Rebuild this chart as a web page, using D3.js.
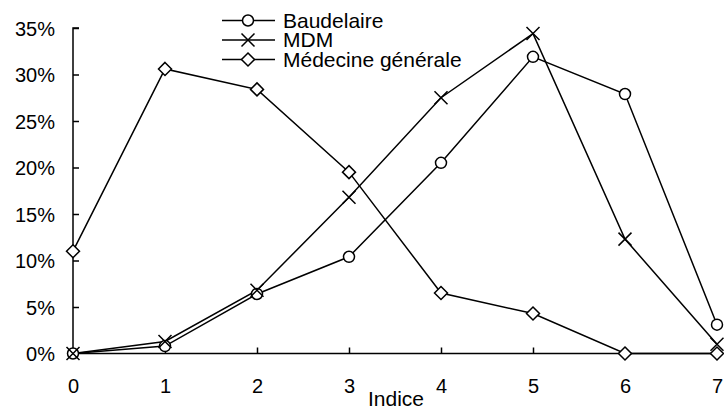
<!DOCTYPE html>
<html>
<head>
<script src="https://cdn.jsdelivr.net/npm/d3@7"></script>
<style type="text/css">
  body { margin: 0; background: #fff; }
  text { font-family: Arial, "Liberation Sans", sans-serif; fill: #000; }
</style>
</head>
<body>
<script>
  // data (percent)
  var indices = [0, 1, 2, 3, 4, 5, 6, 7];
  var baudelaire = [0, 0.8, 6.4, 10.4, 20.5, 31.9, 27.9, 3.1];
  var mdm = [0, 1.3, 6.8, 16.8, 27.5, 34.4, 12.3, 1.0];
  var medecine = [11.0, 30.6, 28.4, 19.5, 6.5, 4.3, 0, 0];
  var yTicks = [0, 5, 10, 15, 20, 25, 30, 35];

  var series = [
    { name: "Baudelaire", values: baudelaire, marker: "circle" },
    { name: "MDM", values: mdm, marker: "cross" },
    { name: "Médecine générale", values: medecine, marker: "diamond" }
  ];

  var canvas = d3.select("body").append("svg")
    .attr("width", 724)
    .attr("height", 410);

  var x = d3.scaleLinear().domain([0, 7]).range([73, 717]);
  var y = d3.scaleLinear().domain([0, 35]).range([353.5, 28]);

  // axes
  var yAxis = canvas.append("g").attr("transform", "translate(73,0)")
    .call(d3.axisRight(y).tickValues(yTicks).tickSize(6).tickFormat(function (d) { return d + "%"; }));
  yAxis.select(".domain").attr("d", "M6," + y(35) + "H0V" + y(0));
  yAxis.selectAll("text").attr("x", -18).attr("text-anchor", "end").attr("dy", "0.35em")
    .style("font-size", "20px");

  var xAxis = canvas.append("g").attr("transform", "translate(0," + y(0) + ")")
    .call(d3.axisTop(x).tickValues(indices).tickSize(6).tickFormat(d3.format("d")));
  xAxis.select(".domain").attr("d", "M" + x(0) + ",0H" + x(7));
  xAxis.selectAll(".tick line").filter(function (d) { return d === 0 || d === 7; }).remove();
  xAxis.selectAll("text").attr("y", 39).attr("dy", 0).style("font-size", "20px");
  canvas.selectAll(".domain, .tick line").attr("stroke", "#000").attr("stroke-width", 1.5);

  canvas.append("text")
    .attr("x", 396).attr("y", 406)
    .attr("text-anchor", "middle")
    .style("font-size", "21px")
    .text("Indice");

  function drawMarker(g, type) {
    if (type === "circle") {
      g.append("circle").attr("r", 5.5).attr("fill", "#fff").attr("stroke", "#000").attr("stroke-width", 1.5);
    } else if (type === "diamond") {
      g.append("path").attr("d", "M0,-6.5L6.5,0L0,6.5L-6.5,0Z")
        .attr("fill", "#fff").attr("stroke", "#000").attr("stroke-width", 1.5);
    } else {
      g.append("path").attr("d", "M-6.5,-6.5L6.5,6.5M-6.5,6.5L6.5,-6.5")
        .attr("fill", "none").attr("stroke", "#000").attr("stroke-width", 1.5);
    }
  }

  var line = d3.line()
    .x(function (d, i) { return x(indices[i]); })
    .y(function (d) { return y(d); });

  series.forEach(function (s) {
    canvas.append("path")
      .attr("d", line(s.values))
      .attr("fill", "none")
      .attr("stroke", "#000")
      .attr("stroke-width", 1.5);
  });
  series.forEach(function (s) {
    canvas.append("g").selectAll("g")
      .data(s.values)
      .enter()
      .append("g")
      .attr("transform", function (d, i) { return "translate(" + x(indices[i]) + "," + y(d) + ")"; })
      .each(function () { drawMarker(d3.select(this), s.marker); });
  });

  // legend
  var legend = canvas.append("g").selectAll("g")
    .data(series)
    .enter()
    .append("g")
    .attr("transform", function (d, i) { return "translate(0," + (20.5 + i * 19.5) + ")"; });
  legend.append("line").attr("x1", 222).attr("x2", 275)
    .attr("stroke", "#000").attr("stroke-width", 1.5);
  legend.append("g").attr("transform", "translate(248,0)")
    .each(function (d) { drawMarker(d3.select(this), d.marker); });
  legend.append("text")
    .attr("x", 283).attr("dy", "0.35em")
    .style("font-size", "21px")
    .text(function (d) { return d.name; });
</script>
</body>
</html>
